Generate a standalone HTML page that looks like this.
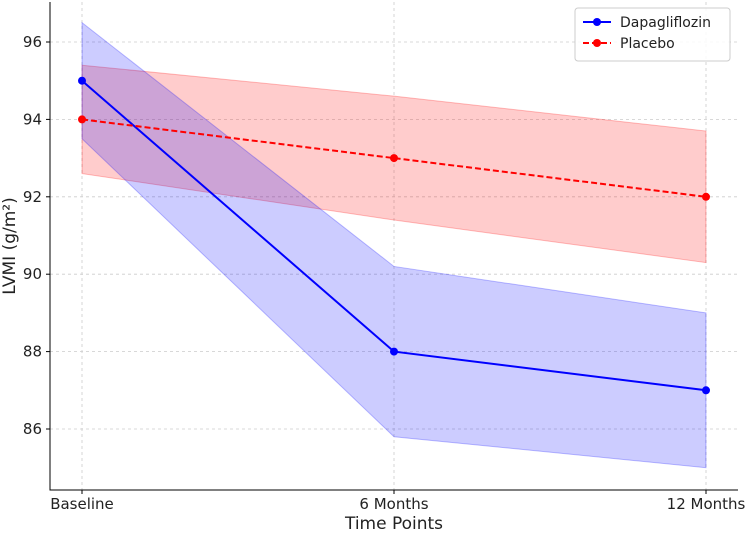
<!DOCTYPE html>
<html><head><meta charset="utf-8"><style>
body{margin:0;background:#fff;font-family:"Liberation Sans","DejaVu Sans",sans-serif}
svg text{font-family:"DejaVu Sans","Liberation Sans",sans-serif}
</style></head><body>
<svg id="chart" width="749" height="532" viewBox="0 0 749 532" xmlns="http://www.w3.org/2000/svg"></svg>
<script>
const categories = ["Baseline","6 Months","12 Months"];
const dapaMean = [95, 88, 87];
const dapaLow = [93.5, 85.8, 85.0];
const dapaHigh = [96.5, 90.2, 89.0];
const placMean = [94, 93, 92];
const placLow = [92.6, 91.4, 90.3];
const placHigh = [95.4, 94.6, 93.7];
const yTicks = [86, 88, 90, 92, 94, 96];

const NS="http://www.w3.org/2000/svg";
const svg=document.getElementById('chart');
const L=50,R=738,T=2,B=490;
function x(i){return 82+i*312;}
function y(v){return 429-(v-86)*38.7;}
function mk(tag,attrs,parent){const e=document.createElementNS(NS,tag);for(const k in attrs)e.setAttribute(k,attrs[k]);(parent||svg).appendChild(e);return e;}

yTicks.forEach(v=>{
  const g=mk('line',{x1:L,x2:R,y1:y(v),y2:y(v),stroke:'#ccc','stroke-width':0.8,'stroke-dasharray':'3,3'});
  
  
});
categories.forEach((c,i)=>{
  const g=mk('line',{x1:x(i),x2:x(i),y1:T,y2:B,stroke:'#ccc','stroke-width':0.8,'stroke-dasharray':'3,3'});
  
  
});

function band(lo,hi,fill,stroke,name){
  let d='M'+lo.map((v,i)=>x(i)+','+y(hi[i])).join(' L');
  d+=' L'+lo.map((v,i)=>x(i)+','+y(v)).reverse().join(' L')+' Z';
  const p=mk('path',{d:d,fill:fill,'fill-opacity':0.2,stroke:stroke,'stroke-opacity':0.25,'stroke-width':1});
  
  
}
band(placLow,placHigh,'#ff0000','#ff0000','placebo-ci-band');
band(dapaLow,dapaHigh,'#0000ff','#0000ff','dapagliflozin-ci-band');

function series(vals,color,dash,name){
  const pl=mk('polyline',{points:vals.map((v,i)=>x(i)+','+y(v)).join(' '),fill:'none',stroke:color,'stroke-width':2,'stroke-dasharray':dash});
  
  
  vals.forEach((v,i)=>{
    const c=mk('circle',{cx:x(i),cy:y(v),r:4,fill:color});
    
    
  });
}
series(dapaMean,'#0000ff','none','dapagliflozin');
series(placMean,'#ff0000','6,3','placebo');

const ax=mk('path',{d:`M${L},${T} L${L},${B} L${R},${B}`,fill:'none',stroke:'#000','stroke-width':1});


yTicks.forEach(v=>{
  mk('line',{x1:L-4,x2:L,y1:y(v),y2:y(v),stroke:'#000'});
  const t=mk('text',{x:L-8,y:y(v)+5,'text-anchor':'end','font-size':15,fill:'#222'});
  t.textContent=v;
  
  
});
categories.forEach((c,i)=>{
  mk('line',{x1:x(i),x2:x(i),y1:B,y2:B+4,stroke:'#000'});
  const t=mk('text',{x:x(i),y:B+19,'text-anchor':'middle','font-size':15,fill:'#222'});
  t.textContent=c;
  
  
});
const xt=mk('text',{x:394,y:529,'text-anchor':'middle','font-size':17,fill:'#222'});
xt.textContent='Time Points';


const yt=mk('text',{x:0,y:0,'text-anchor':'middle','font-size':17,fill:'#222',transform:'translate(15,246) rotate(-90)'});
yt.textContent='LVMI (g/m²)';



const lg=mk('g',{});


mk('rect',{x:575,y:8,width:155,height:53,rx:3,fill:'#fff','fill-opacity':0.85,stroke:'#ccc'},lg);
[['Dapagliflozin','#0000ff','none'],['Placebo','#ff0000','6,3']].forEach((e,i)=>{
  const yy=22+i*21;
  const g=mk('g',{},lg);
  
  
  mk('line',{x1:583,x2:611,y1:yy,y2:yy,stroke:e[1],'stroke-width':2,'stroke-dasharray':e[2]},g);
  mk('circle',{cx:597,cy:yy,r:4,fill:e[1]},g);
  const t=mk('text',{x:620,y:yy+5,'font-size':14,fill:'#222'},g);
  t.textContent=e[0];
});
</script>
</body></html>
